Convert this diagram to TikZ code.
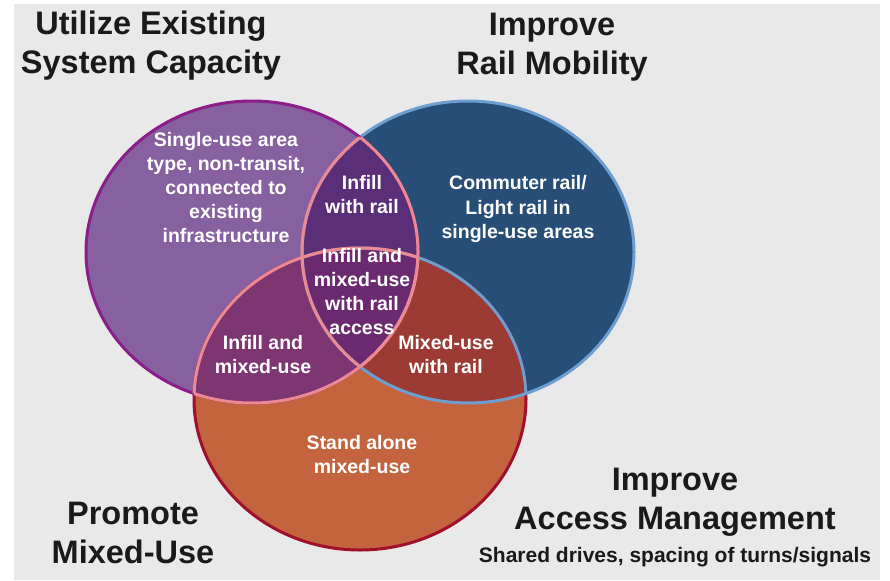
\documentclass[tikz,border=0pt]{standalone}
\usepackage{fontspec}
\setmainfont{Liberation Sans}
\definecolor{bgcol}{HTML}{E9E9E9}
\definecolor{titlecol}{HTML}{1A1A1A}
\definecolor{pfill}{HTML}{86609F}
\definecolor{pline}{HTML}{8B1E8B}
\definecolor{bfill}{HTML}{264E76}
\definecolor{bline}{HTML}{6D9ED0}
\definecolor{ofill}{HTML}{C4643F}
\definecolor{oline}{HTML}{A0102C}
\definecolor{pbfill}{HTML}{5B2E78}
\definecolor{pofill}{HTML}{7D3672}
\definecolor{bofill}{HTML}{9B3B33}
\definecolor{pbofill}{HTML}{6B2A6F}
\definecolor{pinkline}{HTML}{EC8A93}
\begin{document}
\begin{tikzpicture}[x=1pt,y=-1pt,
  ell/.style={x radius=166, y radius=151},
  inner/.style={text=white,font=\fontsize{19.5}{24}\selectfont\bfseries,align=center,inner sep=0pt},
  title/.style={text=titlecol,font=\fontsize{32.5}{39}\selectfont\bfseries,align=center,inner sep=0pt},
  subtitle/.style={text=titlecol,font=\fontsize{21}{25}\selectfont\bfseries,align=center,inner sep=0pt},
  outline/.style={line width=3pt}]
\useasboundingbox (0,0) rectangle (890,580);
\fill[white] (0,0) rectangle (890,580);
\fill[bgcol] (14,4) rectangle (880,580);
\coordinate (cp) at (252,252);
\coordinate (cb) at (468,252);
\coordinate (co) at (360,399);
% fills
\fill[pfill] (cp) ellipse [ell];
\fill[bfill] (cb) ellipse [ell];
\fill[ofill] (co) ellipse [ell];
\begin{scope}
  \clip (cp) ellipse [ell];
  \fill[pbfill] (cb) ellipse [ell];
  \fill[pofill] (co) ellipse [ell];
\end{scope}
\begin{scope}
  \clip (cb) ellipse [ell];
  \fill[bofill] (co) ellipse [ell];
\end{scope}
\begin{scope}
  \clip (cp) ellipse [ell];
  \clip (cb) ellipse [ell];
  \fill[pbofill] (co) ellipse [ell];
\end{scope}
% outlines
\draw[outline,oline] (co) ellipse [ell];
\draw[outline,bline] (cb) ellipse [ell];
\begin{scope}
  \clip (cb) ellipse [ell];
  \draw[outline,bline] (co) ellipse [ell];
\end{scope}
\draw[outline,pline] (cp) ellipse [ell];
\begin{scope}
  \clip (cp) ellipse [ell];
  \draw[outline,pinkline] (cb) ellipse [ell];
  \draw[outline,pinkline] (co) ellipse [ell];
\end{scope}
\begin{scope}
  \clip (cb) ellipse [ell];
  \draw[outline,pinkline] (cp) ellipse [ell];
\end{scope}
\begin{scope}
  \clip (co) ellipse [ell];
  \draw[outline,pinkline] (cp) ellipse [ell];
\end{scope}
% region labels
\node[inner] (single) at (226,188) {Single-use area\\type, non-transit,\\connected to\\existing\\infrastructure};
\node[inner] (infillrail) at (362,195) {Infill\\with rail};
\node[inner] (commuter) at (518,209) {Commuter rail/\\Light rail in\\single-use areas};
\node[inner] (center) at (362,292) {Infill and\\mixed-use\\with rail\\access};
\node[inner] (infillmixed) at (263,355) {Infill and\\mixed-use};
\node[inner] (mixedrail) at (446,355) {Mixed-use\\with rail};
\node[inner] (standalone) at (362,455) {Stand alone\\mixed-use};
% titles
\node[title] (t1) at (151,46) {Utilize Existing\\System Capacity};
\node[title] (t2) at (552,47) {Improve\\Rail Mobility};
\node[title] (t3) at (675,502) {Improve\\Access Management};
\node[subtitle] (t3s) at (675,557) {Shared drives, spacing of turns/signals};
\node[title] (t4) at (133,533) {Promote\\Mixed-Use};
\end{tikzpicture}
\end{document}
